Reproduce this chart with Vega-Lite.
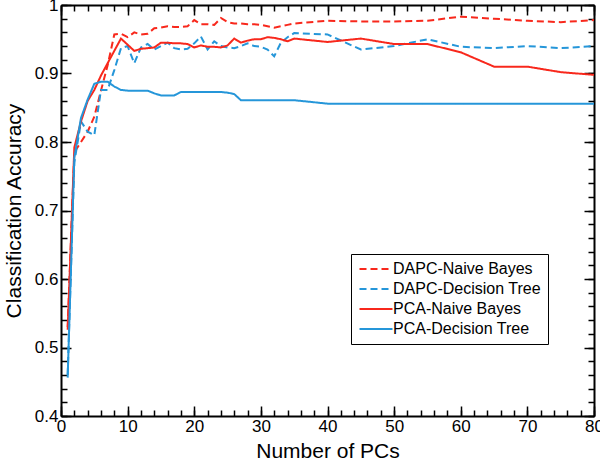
{
  "$schema": "https://vega.github.io/schema/vega-lite/v6.json",
  "width": 533,
  "height": 411,
  "autosize": {"type": "none"},
  "padding": {"left": 61, "top": 5, "right": 6, "bottom": 45},
  "background": "white",
  "config": {
    "view": {"stroke": null},
    "font": "Liberation Sans",
    "axis": {
      "domainColor": "black",
      "domainWidth": 2,
      "tickColor": "black",
      "tickWidth": 1.5,
      "labelColor": "black",
      "labelFont": "Liberation Sans",
      "labelFontSize": 17,
      "labelFlush": false,
      "labelOverlap": false,
      "titleFont": "Liberation Sans",
      "titleFontSize": 21,
      "titleFontWeight": "normal",
      "titleColor": "black",
      "grid": false
    },
    "legend": {
      "labelFont": "Liberation Sans",
      "labelFontSize": 16,
      "labelColor": "black"
    }
  },
  "data": {
    "values": [
      {"pc": 1, "acc": 0.53, "series": "DAPC-Naive Bayes"},
      {"pc": 2, "acc": 0.785, "series": "DAPC-Naive Bayes"},
      {"pc": 3, "acc": 0.8, "series": "DAPC-Naive Bayes"},
      {"pc": 4, "acc": 0.815, "series": "DAPC-Naive Bayes"},
      {"pc": 5, "acc": 0.837, "series": "DAPC-Naive Bayes"},
      {"pc": 6, "acc": 0.875, "series": "DAPC-Naive Bayes"},
      {"pc": 7, "acc": 0.912, "series": "DAPC-Naive Bayes"},
      {"pc": 8, "acc": 0.957, "series": "DAPC-Naive Bayes"},
      {"pc": 9, "acc": 0.958, "series": "DAPC-Naive Bayes"},
      {"pc": 10, "acc": 0.953, "series": "DAPC-Naive Bayes"},
      {"pc": 11, "acc": 0.96, "series": "DAPC-Naive Bayes"},
      {"pc": 12, "acc": 0.957, "series": "DAPC-Naive Bayes"},
      {"pc": 13, "acc": 0.958, "series": "DAPC-Naive Bayes"},
      {"pc": 14, "acc": 0.966, "series": "DAPC-Naive Bayes"},
      {"pc": 15, "acc": 0.967, "series": "DAPC-Naive Bayes"},
      {"pc": 16, "acc": 0.969, "series": "DAPC-Naive Bayes"},
      {"pc": 17, "acc": 0.968, "series": "DAPC-Naive Bayes"},
      {"pc": 18, "acc": 0.968, "series": "DAPC-Naive Bayes"},
      {"pc": 19, "acc": 0.969, "series": "DAPC-Naive Bayes"},
      {"pc": 20, "acc": 0.978, "series": "DAPC-Naive Bayes"},
      {"pc": 21, "acc": 0.972, "series": "DAPC-Naive Bayes"},
      {"pc": 22, "acc": 0.972, "series": "DAPC-Naive Bayes"},
      {"pc": 23, "acc": 0.971, "series": "DAPC-Naive Bayes"},
      {"pc": 24, "acc": 0.981, "series": "DAPC-Naive Bayes"},
      {"pc": 25, "acc": 0.975, "series": "DAPC-Naive Bayes"},
      {"pc": 26, "acc": 0.973, "series": "DAPC-Naive Bayes"},
      {"pc": 27, "acc": 0.973, "series": "DAPC-Naive Bayes"},
      {"pc": 28, "acc": 0.972, "series": "DAPC-Naive Bayes"},
      {"pc": 29, "acc": 0.972, "series": "DAPC-Naive Bayes"},
      {"pc": 30, "acc": 0.971, "series": "DAPC-Naive Bayes"},
      {"pc": 31, "acc": 0.969, "series": "DAPC-Naive Bayes"},
      {"pc": 32, "acc": 0.967, "series": "DAPC-Naive Bayes"},
      {"pc": 33, "acc": 0.969, "series": "DAPC-Naive Bayes"},
      {"pc": 34, "acc": 0.971, "series": "DAPC-Naive Bayes"},
      {"pc": 35, "acc": 0.973, "series": "DAPC-Naive Bayes"},
      {"pc": 40, "acc": 0.977, "series": "DAPC-Naive Bayes"},
      {"pc": 45, "acc": 0.976, "series": "DAPC-Naive Bayes"},
      {"pc": 50, "acc": 0.976, "series": "DAPC-Naive Bayes"},
      {"pc": 55, "acc": 0.977, "series": "DAPC-Naive Bayes"},
      {"pc": 60, "acc": 0.983, "series": "DAPC-Naive Bayes"},
      {"pc": 65, "acc": 0.98, "series": "DAPC-Naive Bayes"},
      {"pc": 70, "acc": 0.977, "series": "DAPC-Naive Bayes"},
      {"pc": 75, "acc": 0.975, "series": "DAPC-Naive Bayes"},
      {"pc": 80, "acc": 0.978, "series": "DAPC-Naive Bayes"},

      {"pc": 1, "acc": 0.46, "series": "DAPC-Decision Tree"},
      {"pc": 2, "acc": 0.77, "series": "DAPC-Decision Tree"},
      {"pc": 3, "acc": 0.83, "series": "DAPC-Decision Tree"},
      {"pc": 4, "acc": 0.815, "series": "DAPC-Decision Tree"},
      {"pc": 5, "acc": 0.81, "series": "DAPC-Decision Tree"},
      {"pc": 6, "acc": 0.876, "series": "DAPC-Decision Tree"},
      {"pc": 7, "acc": 0.876, "series": "DAPC-Decision Tree"},
      {"pc": 8, "acc": 0.905, "series": "DAPC-Decision Tree"},
      {"pc": 9, "acc": 0.937, "series": "DAPC-Decision Tree"},
      {"pc": 10, "acc": 0.94, "series": "DAPC-Decision Tree"},
      {"pc": 11, "acc": 0.915, "series": "DAPC-Decision Tree"},
      {"pc": 12, "acc": 0.938, "series": "DAPC-Decision Tree"},
      {"pc": 13, "acc": 0.943, "series": "DAPC-Decision Tree"},
      {"pc": 14, "acc": 0.935, "series": "DAPC-Decision Tree"},
      {"pc": 15, "acc": 0.94, "series": "DAPC-Decision Tree"},
      {"pc": 16, "acc": 0.945, "series": "DAPC-Decision Tree"},
      {"pc": 17, "acc": 0.937, "series": "DAPC-Decision Tree"},
      {"pc": 18, "acc": 0.935, "series": "DAPC-Decision Tree"},
      {"pc": 19, "acc": 0.936, "series": "DAPC-Decision Tree"},
      {"pc": 20, "acc": 0.944, "series": "DAPC-Decision Tree"},
      {"pc": 21, "acc": 0.954, "series": "DAPC-Decision Tree"},
      {"pc": 22, "acc": 0.935, "series": "DAPC-Decision Tree"},
      {"pc": 23, "acc": 0.947, "series": "DAPC-Decision Tree"},
      {"pc": 24, "acc": 0.94, "series": "DAPC-Decision Tree"},
      {"pc": 25, "acc": 0.938, "series": "DAPC-Decision Tree"},
      {"pc": 26, "acc": 0.937, "series": "DAPC-Decision Tree"},
      {"pc": 27, "acc": 0.94, "series": "DAPC-Decision Tree"},
      {"pc": 28, "acc": 0.944, "series": "DAPC-Decision Tree"},
      {"pc": 29, "acc": 0.94, "series": "DAPC-Decision Tree"},
      {"pc": 30, "acc": 0.939, "series": "DAPC-Decision Tree"},
      {"pc": 31, "acc": 0.935, "series": "DAPC-Decision Tree"},
      {"pc": 32, "acc": 0.925, "series": "DAPC-Decision Tree"},
      {"pc": 33, "acc": 0.945, "series": "DAPC-Decision Tree"},
      {"pc": 34, "acc": 0.953, "series": "DAPC-Decision Tree"},
      {"pc": 35, "acc": 0.959, "series": "DAPC-Decision Tree"},
      {"pc": 40, "acc": 0.957, "series": "DAPC-Decision Tree"},
      {"pc": 45, "acc": 0.935, "series": "DAPC-Decision Tree"},
      {"pc": 50, "acc": 0.94, "series": "DAPC-Decision Tree"},
      {"pc": 55, "acc": 0.95, "series": "DAPC-Decision Tree"},
      {"pc": 60, "acc": 0.939, "series": "DAPC-Decision Tree"},
      {"pc": 65, "acc": 0.937, "series": "DAPC-Decision Tree"},
      {"pc": 70, "acc": 0.94, "series": "DAPC-Decision Tree"},
      {"pc": 75, "acc": 0.937, "series": "DAPC-Decision Tree"},
      {"pc": 80, "acc": 0.94, "series": "DAPC-Decision Tree"},

      {"pc": 1, "acc": 0.526, "series": "PCA-Naive Bayes"},
      {"pc": 2, "acc": 0.792, "series": "PCA-Naive Bayes"},
      {"pc": 3, "acc": 0.83, "series": "PCA-Naive Bayes"},
      {"pc": 4, "acc": 0.86, "series": "PCA-Naive Bayes"},
      {"pc": 5, "acc": 0.876, "series": "PCA-Naive Bayes"},
      {"pc": 6, "acc": 0.897, "series": "PCA-Naive Bayes"},
      {"pc": 7, "acc": 0.915, "series": "PCA-Naive Bayes"},
      {"pc": 8, "acc": 0.933, "series": "PCA-Naive Bayes"},
      {"pc": 9, "acc": 0.951, "series": "PCA-Naive Bayes"},
      {"pc": 10, "acc": 0.942, "series": "PCA-Naive Bayes"},
      {"pc": 11, "acc": 0.933, "series": "PCA-Naive Bayes"},
      {"pc": 12, "acc": 0.936, "series": "PCA-Naive Bayes"},
      {"pc": 13, "acc": 0.937, "series": "PCA-Naive Bayes"},
      {"pc": 14, "acc": 0.938, "series": "PCA-Naive Bayes"},
      {"pc": 15, "acc": 0.945, "series": "PCA-Naive Bayes"},
      {"pc": 16, "acc": 0.945, "series": "PCA-Naive Bayes"},
      {"pc": 17, "acc": 0.944, "series": "PCA-Naive Bayes"},
      {"pc": 18, "acc": 0.944, "series": "PCA-Naive Bayes"},
      {"pc": 19, "acc": 0.943, "series": "PCA-Naive Bayes"},
      {"pc": 20, "acc": 0.938, "series": "PCA-Naive Bayes"},
      {"pc": 21, "acc": 0.941, "series": "PCA-Naive Bayes"},
      {"pc": 22, "acc": 0.939, "series": "PCA-Naive Bayes"},
      {"pc": 23, "acc": 0.939, "series": "PCA-Naive Bayes"},
      {"pc": 24, "acc": 0.938, "series": "PCA-Naive Bayes"},
      {"pc": 25, "acc": 0.941, "series": "PCA-Naive Bayes"},
      {"pc": 26, "acc": 0.951, "series": "PCA-Naive Bayes"},
      {"pc": 27, "acc": 0.945, "series": "PCA-Naive Bayes"},
      {"pc": 28, "acc": 0.948, "series": "PCA-Naive Bayes"},
      {"pc": 29, "acc": 0.95, "series": "PCA-Naive Bayes"},
      {"pc": 30, "acc": 0.95, "series": "PCA-Naive Bayes"},
      {"pc": 31, "acc": 0.953, "series": "PCA-Naive Bayes"},
      {"pc": 32, "acc": 0.952, "series": "PCA-Naive Bayes"},
      {"pc": 33, "acc": 0.95, "series": "PCA-Naive Bayes"},
      {"pc": 34, "acc": 0.947, "series": "PCA-Naive Bayes"},
      {"pc": 35, "acc": 0.951, "series": "PCA-Naive Bayes"},
      {"pc": 40, "acc": 0.946, "series": "PCA-Naive Bayes"},
      {"pc": 45, "acc": 0.951, "series": "PCA-Naive Bayes"},
      {"pc": 50, "acc": 0.943, "series": "PCA-Naive Bayes"},
      {"pc": 55, "acc": 0.943, "series": "PCA-Naive Bayes"},
      {"pc": 60, "acc": 0.931, "series": "PCA-Naive Bayes"},
      {"pc": 65, "acc": 0.91, "series": "PCA-Naive Bayes"},
      {"pc": 70, "acc": 0.91, "series": "PCA-Naive Bayes"},
      {"pc": 75, "acc": 0.902, "series": "PCA-Naive Bayes"},
      {"pc": 80, "acc": 0.898, "series": "PCA-Naive Bayes"},

      {"pc": 1, "acc": 0.456, "series": "PCA-Decision Tree"},
      {"pc": 2, "acc": 0.777, "series": "PCA-Decision Tree"},
      {"pc": 3, "acc": 0.835, "series": "PCA-Decision Tree"},
      {"pc": 4, "acc": 0.862, "series": "PCA-Decision Tree"},
      {"pc": 5, "acc": 0.885, "series": "PCA-Decision Tree"},
      {"pc": 6, "acc": 0.888, "series": "PCA-Decision Tree"},
      {"pc": 7, "acc": 0.888, "series": "PCA-Decision Tree"},
      {"pc": 8, "acc": 0.881, "series": "PCA-Decision Tree"},
      {"pc": 9, "acc": 0.876, "series": "PCA-Decision Tree"},
      {"pc": 10, "acc": 0.875, "series": "PCA-Decision Tree"},
      {"pc": 11, "acc": 0.875, "series": "PCA-Decision Tree"},
      {"pc": 12, "acc": 0.875, "series": "PCA-Decision Tree"},
      {"pc": 13, "acc": 0.875, "series": "PCA-Decision Tree"},
      {"pc": 14, "acc": 0.871, "series": "PCA-Decision Tree"},
      {"pc": 15, "acc": 0.868, "series": "PCA-Decision Tree"},
      {"pc": 16, "acc": 0.868, "series": "PCA-Decision Tree"},
      {"pc": 17, "acc": 0.868, "series": "PCA-Decision Tree"},
      {"pc": 18, "acc": 0.873, "series": "PCA-Decision Tree"},
      {"pc": 19, "acc": 0.873, "series": "PCA-Decision Tree"},
      {"pc": 20, "acc": 0.873, "series": "PCA-Decision Tree"},
      {"pc": 21, "acc": 0.873, "series": "PCA-Decision Tree"},
      {"pc": 22, "acc": 0.873, "series": "PCA-Decision Tree"},
      {"pc": 23, "acc": 0.873, "series": "PCA-Decision Tree"},
      {"pc": 24, "acc": 0.873, "series": "PCA-Decision Tree"},
      {"pc": 25, "acc": 0.872, "series": "PCA-Decision Tree"},
      {"pc": 26, "acc": 0.87, "series": "PCA-Decision Tree"},
      {"pc": 27, "acc": 0.861, "series": "PCA-Decision Tree"},
      {"pc": 28, "acc": 0.861, "series": "PCA-Decision Tree"},
      {"pc": 29, "acc": 0.861, "series": "PCA-Decision Tree"},
      {"pc": 30, "acc": 0.861, "series": "PCA-Decision Tree"},
      {"pc": 35, "acc": 0.861, "series": "PCA-Decision Tree"},
      {"pc": 40, "acc": 0.856, "series": "PCA-Decision Tree"},
      {"pc": 45, "acc": 0.856, "series": "PCA-Decision Tree"},
      {"pc": 50, "acc": 0.856, "series": "PCA-Decision Tree"},
      {"pc": 55, "acc": 0.856, "series": "PCA-Decision Tree"},
      {"pc": 60, "acc": 0.856, "series": "PCA-Decision Tree"},
      {"pc": 65, "acc": 0.856, "series": "PCA-Decision Tree"},
      {"pc": 70, "acc": 0.856, "series": "PCA-Decision Tree"},
      {"pc": 75, "acc": 0.856, "series": "PCA-Decision Tree"},
      {"pc": 80, "acc": 0.856, "series": "PCA-Decision Tree"}
    ]
  },
  "resolve": {"axis": {"x": "independent", "y": "independent"}},
  "layer": [
    {
      "mark": {"type": "line", "strokeWidth": 2},
      "encoding": {
        "x": {
          "field": "pc", "type": "quantitative",
          "scale": {"domain": [0, 80], "nice": false, "zero": false},
          "axis": {
            "orient": "bottom",
            "values": [0, 10, 20, 30, 40, 50, 60, 70, 80],
            "tickSize": -10,
            "labelPadding": 12,
            "title": "Number of PCs",
            "titleX": 266.5,
            "titleY": 41,
            "titleAlign": "center",
            "titleBaseline": "alphabetic"
          }
        },
        "y": {
          "field": "acc", "type": "quantitative",
          "scale": {"domain": [0.4, 1], "nice": false, "zero": false},
          "axis": {
            "orient": "left",
            "values": [0.4, 0.5, 0.6, 0.7, 0.8, 0.9, 1],
            "format": ".1~f",
            "tickSize": -10,
            "labelPadding": 13,
            "title": "Classification Accuracy",
            "titleX": -47,
            "titleY": 205.5,
            "titleAngle": -90,
            "titleAlign": "center",
            "titleBaseline": "middle"
          }
        },
        "color": {
          "field": "series", "type": "nominal",
          "scale": {
            "domain": ["DAPC-Naive Bayes", "DAPC-Decision Tree", "PCA-Naive Bayes", "PCA-Decision Tree"],
            "range": ["#f8281c", "#2596d9", "#f8281c", "#2596d9"]
          },
          "legend": {
            "title": null,
            "orient": "none",
            "legendX": 290,
            "legendY": 249,
            "symbolType": "M-3,0H3",
            "symbolSize": 121,
            "symbolStrokeWidth": 2,
            "symbolOffset": 10,
            "labelOffset": 9,
            "rowPadding": 4,
            "padding": 7,
            "strokeColor": "black",
            "fillColor": "white",
            "labelLimit": 300
          }
        },
        "strokeDash": {
          "field": "series", "type": "nominal",
          "scale": {
            "domain": ["DAPC-Naive Bayes", "DAPC-Decision Tree", "PCA-Naive Bayes", "PCA-Decision Tree"],
            "range": [[7, 4], [7, 4], [1, 0], [1, 0]]
          },
          "legend": {
            "title": null,
            "orient": "none",
            "legendX": 290,
            "legendY": 249,
            "symbolType": "M-3,0H3",
            "symbolSize": 121,
            "symbolStrokeWidth": 2,
            "symbolOffset": 10,
            "labelOffset": 9,
            "rowPadding": 4,
            "padding": 7,
            "strokeColor": "black",
            "fillColor": "white",
            "labelLimit": 300
          }
        }
      }
    },
    {
      "mark": {"type": "line", "strokeOpacity": 0},
      "encoding": {
        "x": {
          "field": "pc", "type": "quantitative",
          "axis": {
            "orient": "bottom",
            "values": [0, 2, 4, 6, 8, 10, 12, 14, 16, 18, 20, 22, 24, 26, 28, 30, 32, 34, 36, 38, 40, 42, 44, 46, 48, 50, 52, 54, 56, 58, 60, 62, 64, 66, 68, 70, 72, 74, 76, 78, 80],
            "tickSize": -6,
            "labels": false,
            "domain": false,
            "title": null
          }
        },
        "y": {
          "field": "acc", "type": "quantitative",
          "axis": {
            "orient": "left",
            "values": [0.4, 0.42, 0.44, 0.46, 0.48, 0.5, 0.52, 0.54, 0.56, 0.58, 0.6, 0.62, 0.64, 0.66, 0.68, 0.7, 0.72, 0.74, 0.76, 0.78, 0.8, 0.82, 0.84, 0.86, 0.88, 0.9, 0.92, 0.94, 0.96, 0.98, 1],
            "tickSize": -6,
            "labels": false,
            "domain": false,
            "title": null
          }
        }
      }
    },
    {
      "mark": {"type": "line", "strokeOpacity": 0},
      "encoding": {
        "x": {
          "field": "pc", "type": "quantitative",
          "axis": {
            "orient": "top",
            "values": [0, 10, 20, 30, 40, 50, 60, 70, 80],
            "tickSize": -10,
            "labels": false,
            "title": null
          }
        },
        "y": {
          "field": "acc", "type": "quantitative",
          "axis": {
            "orient": "right",
            "values": [0.4, 0.5, 0.6, 0.7, 0.8, 0.9, 1],
            "tickSize": -10,
            "labels": false,
            "title": null
          }
        }
      }
    },
    {
      "mark": {"type": "line", "strokeOpacity": 0},
      "encoding": {
        "x": {
          "field": "pc", "type": "quantitative",
          "axis": {
            "orient": "top",
            "values": [0, 2, 4, 6, 8, 10, 12, 14, 16, 18, 20, 22, 24, 26, 28, 30, 32, 34, 36, 38, 40, 42, 44, 46, 48, 50, 52, 54, 56, 58, 60, 62, 64, 66, 68, 70, 72, 74, 76, 78, 80],
            "tickSize": -6,
            "labels": false,
            "domain": false,
            "title": null
          }
        },
        "y": {
          "field": "acc", "type": "quantitative",
          "axis": {
            "orient": "right",
            "values": [0.4, 0.42, 0.44, 0.46, 0.48, 0.5, 0.52, 0.54, 0.56, 0.58, 0.6, 0.62, 0.64, 0.66, 0.68, 0.7, 0.72, 0.74, 0.76, 0.78, 0.8, 0.82, 0.84, 0.86, 0.88, 0.9, 0.92, 0.94, 0.96, 0.98, 1],
            "tickSize": -6,
            "labels": false,
            "domain": false,
            "title": null
          }
        }
      }
    }
  ]
}
